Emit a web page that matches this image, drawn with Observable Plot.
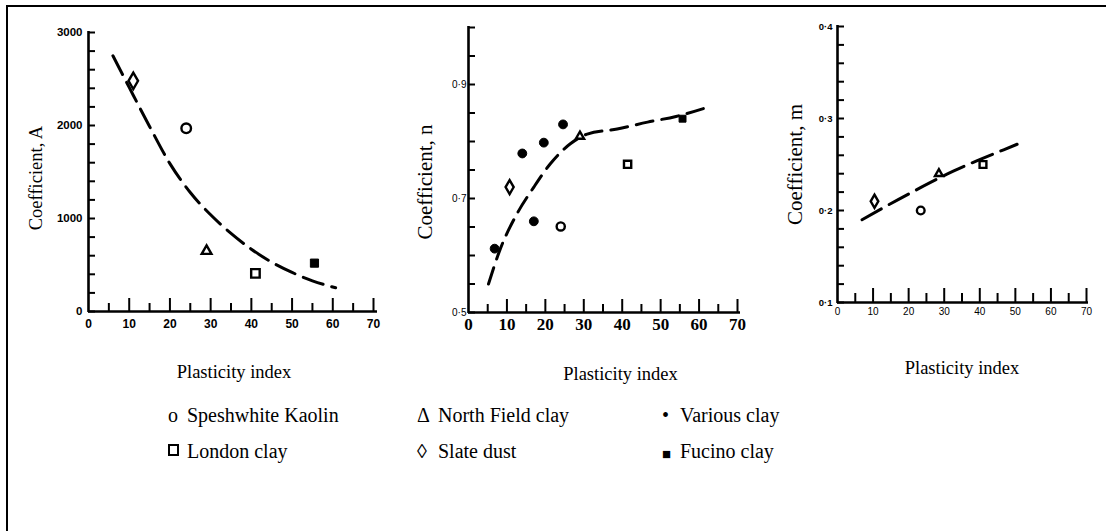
<!DOCTYPE html>
<html>
<head>
<meta charset="utf-8">
<script src="https://cdn.jsdelivr.net/npm/d3@7"></script>
<script src="https://cdn.jsdelivr.net/npm/@observablehq/plot@0.6"></script>
<style>
  body { margin: 0; background: #fff; }
  #fig { position: relative; width: 1106px; height: 531px; overflow: hidden; background: #fff; }
  #frame { position: absolute; left: 6px; top: 5px; width: 1100px; height: 526px;
           border-left: 2px solid #000; border-top: 2px solid #000; box-sizing: border-box; z-index: 5; }
  .panel { position: absolute; top: 0; }
  .panel svg { overflow: visible; background: transparent; }
  .leg { position: absolute; font-family: "Liberation Serif", "Times New Roman", serif; font-size: 20px;
         line-height: 20px; color: #000; white-space: nowrap; }
  .box { position: absolute; width: 7px; height: 8px; border: 2px solid #000; }
</style>
</head>
<body>
<div id="fig">
  <div id="frame"></div>
  <div id="p1" class="panel" style="left:0px"></div>
  <div id="p2" class="panel" style="left:370px"></div>
  <div id="p3" class="panel" style="left:740px"></div>
  <div id="legend"></div>
</div>
<script>
// ---- Data -------------------------------------------------------------
const clays = ["Speshwhite Kaolin", "North Field clay", "London clay", "Slate dust", "Fucino clay"];

// Coefficient A against plasticity index
const aPI  = [24, 29, 41, 11, 55.5];
const aVal = [1970, 650, 410, 2480, 520];
const aCurvePI  = [6, 10, 15, 20, 25, 30, 35, 40, 45, 50, 55, 60.7];
const aCurveVal = [2750, 2410, 1990, 1590, 1280, 1040, 840, 670, 530, 420, 330, 255];

// Coefficient n against plasticity index
const nPI  = [24, 29, 41.4, 10.7, 55.7];
const nVal = [0.651, 0.809, 0.76, 0.72, 0.84];
const variousPI = [6.8, 14, 17, 19.6, 24.6];
const variousN  = [0.612, 0.779, 0.66, 0.798, 0.83];
const nCurvePI  = [5.2, 8.3, 12.6, 17, 21.3, 26.5, 30.9, 38.7, 46.6, 54, 62.7];
const nCurveVal = [0.55, 0.612, 0.673, 0.72, 0.761, 0.796, 0.813, 0.822, 0.834, 0.844, 0.861];

// Coefficient m against plasticity index (no Fucino clay)
const mClays = ["Speshwhite Kaolin", "North Field clay", "London clay", "Slate dust"];
const mPI  = [23.4, 28.5, 40.9, 10.4];
const mVal = [0.2, 0.24, 0.25, 0.21];
const mCurvePI  = [6.9, 20, 32.7, 46.7, 50.5];
const mCurveVal = [0.19, 0.218, 0.243, 0.266, 0.272];

// Axis ticks and labels
const xLabels = [0, 10, 20, 30, 40, 50, 60, 70];
const xMajor  = [10, 20, 30, 40, 50, 60, 70];
const xMinor  = [5, 15, 25, 35, 45, 55, 65];
const aTicks  = [0, 200, 400, 600, 800, 1000, 1200, 1400, 1600, 1800, 2000, 2200, 2400, 2600, 2800, 3000];
const aLabels = [0, 1000, 2000, 3000];
const nTicks  = [0.5, 0.55, 0.6, 0.65, 0.7, 0.75, 0.8, 0.85, 0.9, 0.95, 1.0];
const nLabels = [0.5, 0.7, 0.9];
const mTicks  = [0.1, 0.12, 0.14, 0.16, 0.18, 0.2, 0.22, 0.24, 0.26, 0.28, 0.3, 0.32, 0.34, 0.36, 0.38, 0.4];
const mLabels = [0.1, 0.2, 0.3, 0.4];

// ---- Marker styles ----------------------------------------------------
const markerStyle = {
  "Speshwhite Kaolin": {symbol: "circle",   fill: "none",  r: 4.8},
  "North Field clay":  {symbol: "triangle", fill: "none",  r: 3.6},
  "London clay":       {symbol: "square",   fill: "none",  r: 4.8},
  "Slate dust":        {symbol: "diamond",  fill: "none",  r: 5.0},
  "Fucino clay":       {symbol: "square",   fill: "black", r: 4.6},
  "Various clay":      {symbol: "circle",   fill: "black", r: 5.2}
};

const dotFmt = d => d.toFixed(1).replace(".", "\u00b7");
const serif = "Liberation Serif, Times New Roman, serif";
const sans = "Liberation Sans, Arial, sans-serif";

function dotsFor(rows, scale) {
  return Object.keys(markerStyle).map(name => {
    const s = markerStyle[name];
    const data = rows.filter(d => d.clay === name);
    if (!data.length) return null;
    return Plot.dot(data, {
      x: "pi", y: "v", symbol: s.symbol, r: s.r * scale,
      fill: s.fill, stroke: "black", strokeWidth: s.fill === "none" ? 2.4 : 1
    });
  }).filter(Boolean);
}

function panel(c) {
  const y0 = c.yDomain[0];
  return Plot.plot({
    width: c.width, height: 400,
    marginLeft: c.x0, marginRight: c.width - c.x70,
    marginTop: c.yTop, marginBottom: 400 - c.yBottom,
    x: {domain: [0, 70], axis: null},
    y: {domain: c.yDomain, axis: null},
    style: {background: "transparent", overflow: "visible"},
    marks: [
      // fitted trend
      Plot.line(c.curve, {x: "pi", y: "v", curve: "monotone-x", stroke: "black",
                          strokeWidth: 3, strokeDasharray: c.dash}),
      // axis lines
      Plot.ruleX([0], {strokeWidth: 2.6, insetTop: -1, insetBottom: -1}),
      Plot.ruleY([y0], {strokeWidth: 2.6, insetRight: c.axisExtra}),
      // y ticks pointing inward
      Plot.ruleY(c.yTicks, {x1: 0, x2: 0, insetRight: -7, strokeWidth: 2}),
      // x ticks pointing upward
      Plot.ruleX(xMajor, {y1: y0, y2: y0, insetTop: -c.majorLen, strokeWidth: 2}),
      Plot.ruleX(xMinor, {y1: y0, y2: y0, insetTop: -c.minorLen, strokeWidth: 2}),
      // tick labels
      Plot.text(c.yLabels, {x: 0, y: d => d, text: c.yFormat, textAnchor: "end",
                            dx: c.yLabelDx, ...c.yFont}),
      Plot.text(xLabels, {x: d => d, y: y0, text: d => String(d), dy: c.xLabelDy, ...c.xFont}),
      // axis titles
      Plot.text([c.yTitle], {frameAnchor: "left", textAnchor: "middle", lineAnchor: "middle",
                             rotate: -90, dx: c.titleDx, dy: c.titleDy,
                             fontFamily: serif, fontSize: c.titleSize, fill: "black"}),
      Plot.text(["Plasticity index"], {frameAnchor: "bottom", textAnchor: "middle", lineAnchor: "middle",
                                        dx: c.piDx, dy: c.piDy,
                                        fontFamily: serif, fontSize: c.piSize, fill: "black"}),
      ...dotsFor(c.points, c.markerScale)
    ]
  });
}

const rowsA = clays.map((clay, i) => ({clay, pi: aPI[i], v: aVal[i]}));
const curveA = aCurvePI.map((pi, i) => ({pi, v: aCurveVal[i]}));

const rowsN = clays.map((clay, i) => ({clay, pi: nPI[i], v: nVal[i]}))
  .concat(variousPI.map((pi, i) => ({clay: "Various clay", pi, v: variousN[i]})));
const curveN = nCurvePI.map((pi, i) => ({pi, v: nCurveVal[i]}));

const rowsM = mClays.map((clay, i) => ({clay, pi: mPI[i], v: mVal[i]}));
const curveM = mCurvePI.map((pi, i) => ({pi, v: mCurveVal[i]}));

document.getElementById("p1").append(panel({
  width: 380, x0: 88, x70: 373, yTop: 32, yBottom: 311,
  yDomain: [0, 3000], yTicks: aTicks, yLabels: aLabels, yFormat: d => String(d),
  yFont: {fontFamily: sans, fontWeight: "bold", fontSize: 11.5, fill: "black"}, yLabelDx: -6,
  xFont: {fontFamily: sans, fontWeight: "bold", fontSize: 12, fill: "black"}, xLabelDy: 13,
  majorLen: 13, minorLen: 8, axisExtra: -4, dash: "21,9",
  curve: curveA, points: rowsA, markerScale: 1,
  yTitle: "Coefficient, A", titleSize: 18.5, titleDx: -52, titleDy: 6,
  piDx: 3, piDy: 61, piSize: 18.5
}));

document.getElementById("p2").append(panel({
  width: 370, x0: 98, x70: 367, yTop: 27, yBottom: 312,
  yDomain: [0.5, 1.0], yTicks: nTicks, yLabels: nLabels, yFormat: dotFmt,
  yFont: {fontFamily: sans, fontSize: 10, fill: "black", letterSpacing: "1px"}, yLabelDx: -2,
  xFont: {fontFamily: serif, fontWeight: "bold", fontSize: 17, fill: "black"}, xLabelDy: 12,
  majorLen: 13, minorLen: 8, axisExtra: -3, dash: "17,9",
  curve: curveN, points: rowsN, markerScale: 0.85,
  yTitle: "Coefficient, n", titleSize: 21, titleDx: -43, titleDy: 12,
  piDx: 17.5, piDy: 62, piSize: 18.5
}));

document.getElementById("p3").append(panel({
  width: 366, x0: 97, x70: 346, yTop: 26, yBottom: 302,
  yDomain: [0.1, 0.4], yTicks: mTicks, yLabels: mLabels, yFormat: dotFmt,
  yFont: {fontFamily: sans, fontWeight: "bold", fontSize: 9.5, fill: "black", letterSpacing: "1px"}, yLabelDx: -5,
  xFont: {fontFamily: sans, fontSize: 10, fill: "black"}, xLabelDy: 9,
  majorLen: 14, minorLen: 9, axisExtra: -2, dash: "22,9",
  curve: curveM, points: rowsM, markerScale: 0.8,
  yTitle: "Coefficient, m", titleSize: 21, titleDx: -42, titleDy: 0,
  piDx: 0, piDy: 66, piSize: 18.5
}));

// ---- Legend -----------------------------------------------------------
const legendItems = [
  {glyph: "o",      label: "Speshwhite Kaolin", col: 0, row: 0},
  {glyph: "\u0394", label: "North Field clay",  col: 1, row: 0},
  {glyph: "\u2022", label: "Various clay",      col: 2, row: 0},
  {glyph: "box",    label: "London clay",       col: 0, row: 1},
  {glyph: "\u25ca", label: "Slate dust",        col: 1, row: 1},
  {glyph: "\u25a0", label: "Fucino clay",       col: 2, row: 1}
];
const colSymbolX = [168, 417, 662];
const colTextX = [187, 438, 680];
const rowTop = [405, 441];
const legend = document.getElementById("legend");
for (const it of legendItems) {
  if (it.glyph === "box") {
    const b = document.createElement("div");
    b.className = "box";
    b.style.left = colSymbolX[it.col] + "px";
    b.style.top = (rowTop[it.row] + 3) + "px";
    legend.append(b);
  } else {
    const g = document.createElement("div");
    g.className = "leg";
    g.style.left = colSymbolX[it.col] + "px";
    g.style.top = rowTop[it.row] + "px";
    if (it.glyph === "\u25a0") g.style.fontSize = "15px";
    if (it.glyph === "\u25a0") g.style.top = (rowTop[it.row] + 3) + "px";
    g.textContent = it.glyph;
    legend.append(g);
  }
  const t = document.createElement("div");
  t.className = "leg";
  t.style.left = colTextX[it.col] + "px";
  t.style.top = rowTop[it.row] + "px";
  t.textContent = it.label;
  legend.append(t);
}
</script>
</body>
</html>
